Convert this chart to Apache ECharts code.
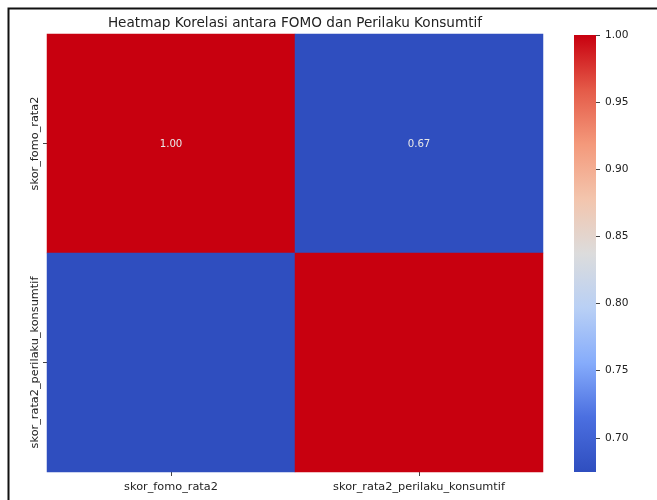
<!DOCTYPE html>
<html>
<head>
<meta charset="utf-8">
<script src="https://cdn.jsdelivr.net/npm/echarts@6/dist/echarts.min.js"></script>
<style>
  html, body { margin: 0; padding: 0; background: #fff; }
  #chart { width: 657px; height: 500px; }
</style>
</head>
<body>
<div id="chart"></div>
<script>
// Variables in the correlation matrix
const variables = ['skor_fomo_rata2', 'skor_rata2_perilaku_konsumtif'];
// Correlation values, one row per variable
const rowFomo = [1.00, 0.6745];
const rowKonsumtif = [0.6745, 1.00];
// Rows whose cells carry a printed value
const annotatedRows = [true, false];
// Colour bar range and tick values
const scaleMin = 0.6745;
const scaleMax = 1.00;
const colorbarTicks = [0.70, 0.75, 0.80, 0.85, 0.90, 0.95, 1.00];

// coolwarm-style ramp, low to high
const ramp = ['#2f4ebf', '#4b6fe0', '#86acfb', '#b9d0f5', '#dcdcdc',
              '#f3c5ad', '#f4997b', '#e45a48', '#c8000f'];

const matrix = [rowFomo, rowKonsumtif];
const cells = [];
matrix.forEach((row, r) => {
  row.forEach((v, c) => {
    cells.push({
      value: [c, r, v],
      label: { show: annotatedRows[r] }
    });
  });
});

const gradStops = ramp.map((col, i) => ({ offset: 1 - i / (ramp.length - 1), color: col }));

const chart = echarts.init(document.getElementById('chart'), null, { renderer: 'canvas' });
chart.setOption({
  backgroundColor: '#fff',
  animation: false,
  textStyle: { fontFamily: 'DejaVu Sans' },
  title: {
    text: 'Heatmap Korelasi antara FOMO dan Perilaku Konsumtif',
    left: 290, top: 11, textAlign: 'center',
    textStyle: { fontSize: 13.6, fontWeight: 'normal', color: '#222', fontFamily: 'DejaVu Sans' }
  },
  graphic: [
    { type: 'rect', shape: { x: 8.5, y: 8.5, width: 700, height: 600 },
      style: { fill: null, stroke: '#111', lineWidth: 2 }, z: 100 }
  ],
  grid: [
    { left: 47, top: 34, width: 496, height: 438 },
    { left: 574, top: 35, width: 22, height: 437 }
  ],
  xAxis: [
    {
      type: 'category', gridIndex: 0, data: variables,
      axisLine: { show: false },
      axisTick: { show: true, alignWithLabel: true, interval: 0, length: 4, lineStyle: { color: '#444' } },
      axisLabel: { interval: 0, margin: 10, fontSize: 11.3, color: '#222', fontFamily: 'DejaVu Sans' },
      splitLine: { show: false }
    },
    {
      type: 'category', gridIndex: 1, data: ['c'],
      show: false
    }
  ],
  yAxis: [
    {
      type: 'category', gridIndex: 0, data: variables, inverse: true,
      axisLine: { show: false },
      axisTick: { show: true, alignWithLabel: true, interval: 0, length: 4, lineStyle: { color: '#444' } },
      axisLabel: { interval: 0, rotate: 90, margin: 6, fontSize: 11.3, color: '#222', fontFamily: 'DejaVu Sans' },
      splitLine: { show: false }
    },
    {
      type: 'value', gridIndex: 1, position: 'right', min: scaleMin, max: scaleMax,
      axisLine: { show: false },
      axisTick: { show: true, length: 4, customValues: colorbarTicks, lineStyle: { color: '#444' } },
      axisLabel: {
        show: true, margin: 9, fontSize: 10.6, color: '#222', fontFamily: 'DejaVu Sans',
        customValues: colorbarTicks,
        formatter: v => v.toFixed(2)
      },
      splitLine: { show: false }
    }
  ],
  visualMap: {
    show: false, type: 'continuous', seriesIndex: 0, dimension: 2,
    min: scaleMin, max: scaleMax,
    inRange: { color: ramp }
  },
  series: [
    {
      type: 'heatmap', xAxisIndex: 0, yAxisIndex: 0,
      data: cells,
      label: {
        show: true, color: '#e8e8e8', fontSize: 10.2, fontFamily: 'DejaVu Sans',
        offset: [0, 1],
        formatter: p => p.value[2].toFixed(2)
      },
      itemStyle: { borderWidth: 0 }
    },
    {
      type: 'bar', xAxisIndex: 1, yAxisIndex: 1,
      data: [scaleMax],
      barWidth: '100%',
      silent: true,
      itemStyle: {
        color: new echarts.graphic.LinearGradient(0, 0, 0, 1, gradStops)
      }
    }
  ]
});
</script>
</body>
</html>
